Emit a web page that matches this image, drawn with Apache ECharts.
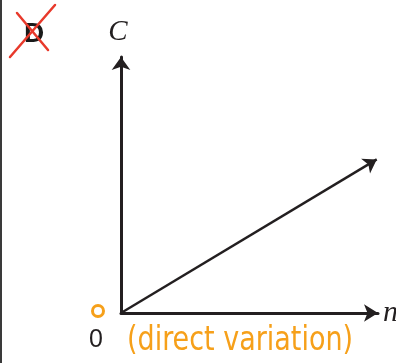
<!DOCTYPE html>
<html>
<head>
<meta charset="utf-8">
<script src="https://cdn.jsdelivr.net/npm/echarts@6/dist/echarts.min.js"></script>
<style>
  html, body { margin: 0; padding: 0; background: #fff; }
  #chart { width: 396px; height: 363px; }
</style>
</head>
<body>
<div id="chart"></div>
<script>
// Direct variation: C grows in proportion to n, starting from the origin.
const xAxisName = 'n';
const yAxisName = 'C';
const originLabel = ['0'];
const lineX = [0, 9.95];
const lineY = [0, 6.0];
const crossedOption = 'D';
const note = '(direct variation)';

const ink = '#231f20';
const orange = '#f6a01a';
const red = '#e8392b';

const chart = echarts.init(document.getElementById('chart'), null, { renderer: 'canvas' });

const gridLeft = 121, gridRight = 18, gridTop = 57, gridBottom = 50;

chart.setOption({
  animation: false,
  backgroundColor: '#fff',
  grid: {
    left: gridLeft, right: gridRight, top: gridTop, bottom: gridBottom,
    containLabel: false, outerBoundsMode: 'none'
  },
  xAxis: {
    type: 'value', min: 0, max: 10,
    name: xAxisName, nameLocation: 'end', nameGap: 5,
    nameTextStyle: { fontFamily: 'Liberation Serif', fontStyle: 'italic', fontSize: 30, color: ink, verticalAlign: 'middle', padding: [2, 0, 0, 0] },
    axisLine: { show: true, symbol: ['none', 'arrow'], symbolSize: [13, 14], lineStyle: { color: ink, width: 3 } },
    axisTick: { show: false }, axisLabel: { show: false }, splitLine: { show: false }
  },
  yAxis: {
    type: 'value', min: 0, max: 10,
    name: yAxisName, nameLocation: 'end', nameGap: 10,
    nameTextStyle: { fontFamily: 'Liberation Serif', fontStyle: 'italic', fontSize: 29, color: ink, padding: [0, 6, 0, 0] },
    axisLine: { show: true, symbol: ['none', 'arrow'], symbolSize: [14, 13], lineStyle: { color: ink, width: 3 } },
    axisTick: { show: false }, axisLabel: { show: false }, splitLine: { show: false }
  },
  series: [{
    type: 'lines',
    coordinateSystem: 'cartesian2d',
    symbol: ['none', 'arrow'],
    symbolSize: 13,
    lineStyle: { color: ink, width: 2.4, opacity: 1 },
    data: [{ coords: [[lineX[0], lineY[0]], [lineX[1], lineY[1]]] }]
  }],
  graphic: [
    // left page edge
    { type: 'line', shape: { x1: 1, y1: 0, x2: 1, y2: 363 }, style: { stroke: '#3a3a3a', lineWidth: 2 } },
    // crossed-out option letter
    { type: 'text', x: 34, y: 34, style: { text: crossedOption, fontFamily: 'Liberation Sans', fontWeight: 'bold', fontSize: 28, fill: '#1a1a1a', align: 'center', verticalAlign: 'middle' } },
    { type: 'line', shape: { x1: 10, y1: 57, x2: 55, y2: 5 }, style: { stroke: red, lineWidth: 2.5, lineCap: 'round' } },
    { type: 'line', shape: { x1: 17, y1: 13, x2: 48, y2: 50 }, style: { stroke: red, lineWidth: 2.5, lineCap: 'round' } },
    // origin mark and label
    { type: 'circle', shape: { cx: 98, cy: 311, r: 5.5 }, style: { fill: 'none', stroke: orange, lineWidth: 3 } },
    { type: 'text', x: 96, y: 340, style: { text: originLabel[0], fontFamily: 'Liberation Sans', fontSize: 25, fill: ink, align: 'center', verticalAlign: 'middle' } },
    // handwritten note
    { type: 'text', x: 240, y: 341, scaleY: 1.15, style: { text: note, fontFamily: 'Liberation Sans Narrow, DejaVu Sans Condensed, sans-serif', fontSize: 30, fill: orange, align: 'center', verticalAlign: 'middle' } }
  ]
});
</script>
</body>
</html>
